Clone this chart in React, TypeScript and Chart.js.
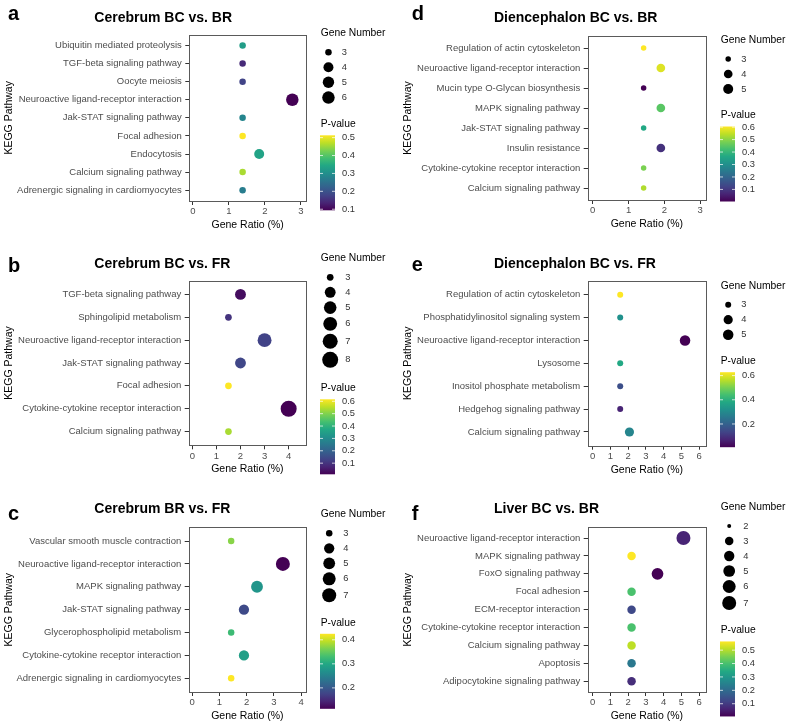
import React, { useEffect, useRef } from 'react';
import { Chart, registerables } from 'chart.js';

Chart.register(...registerables);

const FONT = '"Liberation Sans", Arial, Helvetica, sans-serif';

// ---------- Panel a : Cerebrum BC vs. BR ----------
const aPathways = [
  'Ubiquitin mediated proteolysis',
  'TGF-beta signaling pathway',
  'Oocyte meiosis',
  'Neuroactive ligand-receptor interaction',
  'Jak-STAT signaling pathway',
  'Focal adhesion',
  'Endocytosis',
  'Calcium signaling pathway',
  'Adrenergic signaling in cardiomyocytes',
];
const aRatio = [1.38, 1.38, 1.38, 2.76, 1.38, 1.38, 1.84, 1.38, 1.38];
const aGenes = [3, 3, 3, 6, 3, 3, 4, 3, 3];
const aPvalue = [0.325, 0.144, 0.178, 0.094, 0.283, 0.513, 0.337, 0.459, 0.27];
const aSizeBreaks = [3, 4, 5, 6];
const aPBreaks = [0.1, 0.2, 0.3, 0.4, 0.5];
const aXTicks = [0, 1, 2, 3];

// ---------- Panel b : Cerebrum BC vs. FR ----------
const bPathways = [
  'TGF-beta signaling pathway',
  'Sphingolipid metabolism',
  'Neuroactive ligand-receptor interaction',
  'Jak-STAT signaling pathway',
  'Focal adhesion',
  'Cytokine-cytokine receptor interaction',
  'Calcium signaling pathway',
];
const bRatio = [2.0, 1.5, 3.0, 2.0, 1.5, 4.0, 1.5];
const bGenes = [4, 3, 6, 4, 3, 8, 3];
const bPvalue = [0.03, 0.1, 0.13, 0.137, 0.616, 0.01, 0.537];
const bSizeBreaks = [3, 4, 5, 6, 7, 8];
const bPBreaks = [0.1, 0.2, 0.3, 0.4, 0.5, 0.6];
const bXTicks = [0, 1, 2, 3, 4];

// ---------- Panel c : Cerebrum BR vs. FR ----------
const cPathways = [
  'Vascular smooth muscle contraction',
  'Neuroactive ligand-receptor interaction',
  'MAPK signaling pathway',
  'Jak-STAT signaling pathway',
  'Glycerophospholipid metabolism',
  'Cytokine-cytokine receptor interaction',
  'Adrenergic signaling in cardiomyocytes',
];
const cRatio = [1.43, 3.33, 2.38, 1.9, 1.43, 1.9, 1.43];
const cGenes = [3, 7, 5, 4, 3, 4, 3];
const cPvalue = [0.369, 0.113, 0.275, 0.182, 0.325, 0.288, 0.425];
const cSizeBreaks = [3, 4, 5, 6, 7];
const cPBreaks = [0.2, 0.3, 0.4];
const cXTicks = [0, 1, 2, 3, 4];

// ---------- Panel d : Diencephalon BC vs. BR ----------
const dPathways = [
  'Regulation of actin cytoskeleton',
  'Neuroactive ligand-receptor interaction',
  'Mucin type O-Glycan biosynthesis',
  'MAPK signaling pathway',
  'Jak-STAT signaling pathway',
  'Insulin resistance',
  'Cytokine-cytokine receptor interaction',
  'Calcium signaling pathway',
];
const dRatio = [1.42, 1.9, 1.42, 1.9, 1.42, 1.9, 1.42, 1.42];
const dGenes = [3, 4, 3, 4, 3, 4, 3, 3];
const dPvalue = [0.605, 0.575, 0.003, 0.448, 0.364, 0.087, 0.485, 0.533];
const dSizeBreaks = [3, 4, 5];
const dPBreaks = [0.1, 0.2, 0.3, 0.4, 0.5, 0.6];
const dXTicks = [0, 1, 2, 3];

// ---------- Panel e : Diencephalon BC vs. FR ----------
const ePathways = [
  'Regulation of actin cytoskeleton',
  'Phosphatidylinositol signaling system',
  'Neuroactive ligand-receptor interaction',
  'Lysosome',
  'Inositol phosphate metabolism',
  'Hedgehog signaling pathway',
  'Calcium signaling pathway',
];
const eRatio = [1.55, 1.55, 5.2, 1.55, 1.55, 1.55, 2.07];
const eGenes = [3, 3, 5, 3, 3, 3, 4];
const ePvalue = [0.628, 0.318, 0.008, 0.38, 0.157, 0.07, 0.287];
const eSizeBreaks = [3, 4, 5];
const ePBreaks = [0.2, 0.4, 0.6];
const eXTicks = [0, 1, 2, 3, 4, 5, 6];

// ---------- Panel f : Liver BC vs. BR ----------
const fPathways = [
  'Neuroactive ligand-receptor interaction',
  'MAPK signaling pathway',
  'FoxO signaling pathway',
  'Focal adhesion',
  'ECM-receptor interaction',
  'Cytokine-cytokine receptor interaction',
  'Calcium signaling pathway',
  'Apoptosis',
  'Adipocytokine signaling pathway',
];
const fRatio = [5.11, 2.19, 3.65, 2.19, 2.19, 2.19, 2.19, 2.19, 2.19];
const fGenes = [7, 3, 5, 3, 3, 3, 3, 3, 3];
const fPvalue = [0.061, 0.565, 0.005, 0.403, 0.128, 0.403, 0.509, 0.229, 0.078];
const fSizeBreaks = [2, 3, 4, 5, 6, 7];
const fPBreaks = [0.1, 0.2, 0.3, 0.4, 0.5];
const fXTicks = [0, 1, 2, 3, 4, 5, 6];

// ---------- colour map (viridis) ----------
const VIRIDIS = [
  '#440154', '#482475', '#414487', '#355F8D', '#2A788E', '#21918C',
  '#22A884', '#44BF70', '#7AD151', '#BDDF26', '#FDE725',
];
function hexToRgb(h: string) {
  const n = parseInt(h.slice(1), 16);
  return [(n >> 16) & 255, (n >> 8) & 255, n & 255];
}
function viridis(t: number) {
  const c = Math.max(0, Math.min(1, t)) * (VIRIDIS.length - 1);
  const i = Math.min(VIRIDIS.length - 2, Math.floor(c));
  const f = c - i;
  const a = hexToRgb(VIRIDIS[i]);
  const b = hexToRgb(VIRIDIS[i + 1]);
  const r = a.map((v, k) => Math.round(v + (b[k] - v) * f));
  return `rgb(${r[0]},${r[1]},${r[2]})`;
}

type Col = { letterX: number; titleX: number; yTitleX: number; legendX: number };
const LEFT: Col = { letterX: 8, titleX: 94.3, yTitleX: 8.7, legendX: 320.7 };
const RIGHT: Col = { letterX: 411.7, titleX: 494, yTitleX: 408.3, legendX: 720.7 };

type Spec = {
  letter: string;
  title: string;
  pathways: string[];
  ratio: number[];
  genes: number[];
  pvalue: number[];
  sizeBreaks: number[];
  pBreaks: number[];
  xTicks: number[];
  col: Col;
  box: { x0: number; y0: number; w: number; h: number };
  plot: [number, number, number, number];
  xRange: [number, number];
  diam: [number, number];
  gnY: number;
  letterY: number;
  titleY: number;
};

const specs: Spec[] = [
  {
    letter: 'a', title: 'Cerebrum BC vs. BR',
    pathways: aPathways, ratio: aRatio, genes: aGenes, pvalue: aPvalue,
    sizeBreaks: aSizeBreaks, pBreaks: aPBreaks, xTicks: aXTicks, col: LEFT,
    box: { x0: 0, y0: 0, w: 395, h: 240 }, plot: [189.3, 34.7, 306, 201],
    xRange: [-0.1, 3.14], diam: [6.5, 12.5], gnY: 33.3, letterY: 20, titleY: 21.7,
  },
  {
    letter: 'b', title: 'Cerebrum BC vs. FR',
    pathways: bPathways, ratio: bRatio, genes: bGenes, pvalue: bPvalue,
    sizeBreaks: bSizeBreaks, pBreaks: bPBreaks, xTicks: bXTicks, col: LEFT,
    box: { x0: 0, y0: 240, w: 395, h: 240 }, plot: [188.7, 280.7, 306, 445.3],
    xRange: [-0.15, 4.72], diam: [6.7, 16], gnY: 258.3, letterY: 271.5, titleY: 268.3,
  },
  {
    letter: 'c', title: 'Cerebrum BR vs. FR',
    pathways: cPathways, ratio: cRatio, genes: cGenes, pvalue: cPvalue,
    sizeBreaks: cSizeBreaks, pBreaks: cPBreaks, xTicks: cXTicks, col: LEFT,
    box: { x0: 0, y0: 480, w: 395, h: 244 }, plot: [188.7, 527.3, 306, 692],
    xRange: [-0.13, 4.18], diam: [6.5, 14], gnY: 514.3, letterY: 520, titleY: 513.3,
  },
  {
    letter: 'd', title: 'Diencephalon BC vs. BR',
    pathways: dPathways, ratio: dRatio, genes: dGenes, pvalue: dPvalue,
    sizeBreaks: dSizeBreaks, pBreaks: dPBreaks, xTicks: dXTicks, col: RIGHT,
    box: { x0: 395, y0: 0, w: 395, h: 240 }, plot: [587.7, 36, 706, 200],
    xRange: [-0.14, 3.16], diam: [5.5, 10], gnY: 40, letterY: 20, titleY: 21.7,
  },
  {
    letter: 'e', title: 'Diencephalon BC vs. FR',
    pathways: ePathways, ratio: eRatio, genes: eGenes, pvalue: ePvalue,
    sizeBreaks: eSizeBreaks, pBreaks: ePBreaks, xTicks: eXTicks, col: RIGHT,
    box: { x0: 395, y0: 240, w: 395, h: 240 }, plot: [587.7, 281, 706, 445.7],
    xRange: [-0.28, 6.38], diam: [6, 10.5], gnY: 285.7, letterY: 271, titleY: 268.3,
  },
  {
    letter: 'f', title: 'Liver BC vs. BR',
    pathways: fPathways, ratio: fRatio, genes: fGenes, pvalue: fPvalue,
    sizeBreaks: fSizeBreaks, pBreaks: fPBreaks, xTicks: fXTicks, col: RIGHT,
    box: { x0: 395, y0: 480, w: 395, h: 244 }, plot: [587.7, 527.3, 706, 692],
    xRange: [-0.28, 6.38], diam: [4, 14], gnY: 507, letterY: 520, titleY: 513.3,
  },
];

function Panel({ s }: { s: Spec }) {
  const ref = useRef<HTMLCanvasElement | null>(null);

  useEffect(() => {
    const canvas = ref.current;
    if (!canvas) return;
    const { x0, y0, w, h } = s.box;
    const [pl, pt, pr, pb] = s.plot;
    const sMin = s.sizeBreaks[0];
    const sMax = s.sizeBreaks[s.sizeBreaks.length - 1];
    const diamOf = (v: number) =>
      s.diam[0] + (s.diam[1] - s.diam[0]) * Math.sqrt(Math.max(0, (v - sMin) / (sMax - sMin)));
    const pMin = Math.min(...s.pvalue);
    const pMax = Math.max(...s.pvalue);
    const colorOf = (p: number) => viridis((p - pMin) / (pMax - pMin));

    const points = s.ratio.map((x, i) => ({ x, y: i }));
    const radii = s.genes.map((g) => diamOf(g) / 2);
    const colors = s.pvalue.map(colorOf);

    const overlay = {
      id: 'overlay' + s.letter,
      afterDraw(chart: any) {
        const ctx = chart.ctx as CanvasRenderingContext2D;
        const { left, top, right, bottom } = chart.chartArea;
        ctx.save();
        // panel border
        ctx.strokeStyle = '#5a5a5a';
        ctx.lineWidth = 1;
        ctx.strokeRect(Math.round(left) + 0.5, Math.round(top) + 0.5,
          Math.round(right) - Math.round(left), Math.round(bottom) - Math.round(top));

        // panel letter
        ctx.fillStyle = '#000';
        ctx.textAlign = 'left';
        ctx.textBaseline = 'alphabetic';
        ctx.font = `bold 20px ${FONT}`;
        ctx.fillText(s.letter, s.col.letterX - x0, s.letterY - y0);
        // title
        ctx.font = `bold 14px ${FONT}`;
        ctx.fillText(s.title, s.col.titleX - x0, s.titleY - y0);

        // axis titles
        ctx.font = `10.5px ${FONT}`;
        ctx.textAlign = 'center';
        ctx.textBaseline = 'middle';
        ctx.fillText('Gene Ratio (%)', (left + right) / 2, bottom + 24);
        ctx.save();
        ctx.translate(s.col.yTitleX - x0, (top + bottom) / 2);
        ctx.rotate(-Math.PI / 2);
        ctx.fillText('KEGG Pathway', 0, 0);
        ctx.restore();

        // size legend
        const lx = s.col.legendX - x0;
        const dMaxLegend = diamOf(sMax);
        const kw = Math.max(15, dMaxLegend + 3);
        ctx.textAlign = 'left';
        ctx.textBaseline = 'middle';
        ctx.font = `10.3px ${FONT}`;
        ctx.fillStyle = '#000';
        ctx.fillText('Gene Number', lx, s.gnY - y0);
        let y = s.gnY - y0 + 19;
        let prevH = 0;
        s.sizeBreaks.forEach((v, i) => {
          const d = diamOf(v);
          const kh = Math.max(15, d + 3);
          if (i > 0) y += (prevH + kh) / 2;
          prevH = kh;
          ctx.fillStyle = '#000';
          ctx.beginPath();
          ctx.arc(lx + kw / 2, y, d / 2, 0, Math.PI * 2);
          ctx.fill();
          ctx.fillStyle = '#333';
          ctx.font = `9.3px ${FONT}`;
          ctx.fillText(String(v), lx + kw + 5.5, y);
        });
        const gnBottom = y + prevH / 2;

        // colour bar legend
        const pvY = gnBottom + 19;
        ctx.fillStyle = '#000';
        ctx.font = `10.3px ${FONT}`;
        ctx.fillText('P-value', lx, pvY);
        const cbX = lx - 0.7;
        const cbTop = pvY + 11;
        const cbH = 75;
        const cbW = 15;
        const grad = ctx.createLinearGradient(0, cbTop + cbH, 0, cbTop);
        VIRIDIS.forEach((c, i) => grad.addColorStop(i / (VIRIDIS.length - 1), c));
        ctx.fillStyle = grad;
        ctx.fillRect(cbX, cbTop, cbW, cbH);
        ctx.font = `9.3px ${FONT}`;
        s.pBreaks.forEach((b) => {
          const yy = cbTop + cbH - ((b - pMin) / (pMax - pMin)) * cbH;
          ctx.strokeStyle = 'rgba(255,255,255,0.9)';
          ctx.lineWidth = 0.8;
          ctx.beginPath();
          ctx.moveTo(cbX, yy);
          ctx.lineTo(cbX + 3, yy);
          ctx.moveTo(cbX + cbW - 3, yy);
          ctx.lineTo(cbX + cbW, yy);
          ctx.stroke();
          ctx.fillStyle = '#333';
          ctx.fillText(String(b), cbX + cbW + 7, yy);
        });
        ctx.restore();
      },
    };

    const tickFont = { family: FONT, size: 9.5 };
    const chart = new Chart(canvas, {
      type: 'scatter',
      data: {
        datasets: [
          {
            data: points,
            pointRadius: radii,
            pointHoverRadius: radii,
            pointBackgroundColor: colors,
            pointBorderWidth: 0,
            pointBorderColor: 'rgba(0,0,0,0)',
          } as any,
        ],
      },
      options: {
        animation: false,
        responsive: false,
        maintainAspectRatio: false,
        events: [],
        layout: { padding: { left: 0, top: pt - y0, right: x0 + w - pr, bottom: 0 } },
        plugins: { legend: { display: false }, tooltip: { enabled: false } },
        scales: {
          x: {
            type: 'linear',
            min: s.xRange[0],
            max: s.xRange[1],
            afterBuildTicks: (sc: any) => {
              sc.ticks = s.xTicks.map((v) => ({ value: v }));
            },
            afterFit: (sc: any) => {
              sc.height = y0 + h - pb;
            },
            grid: { drawOnChartArea: false, drawTicks: true, tickLength: 4, tickColor: '#333', tickWidth: 1 },
            border: { display: false },
            ticks: {
              font: tickFont, color: '#4D4D4D', padding: 1, maxRotation: 0, autoSkip: false,
              callback: (v: any) => String(v),
            },
          },
          y: {
            type: 'linear',
            reverse: true,
            min: -0.6,
            max: s.pathways.length - 0.4,
            afterBuildTicks: (sc: any) => {
              sc.ticks = s.pathways.map((_, i) => ({ value: i }));
            },
            afterFit: (sc: any) => {
              sc.width = pl - x0;
            },
            grid: { drawOnChartArea: false, drawTicks: true, tickLength: 4, tickColor: '#333', tickWidth: 1 },
            border: { display: false },
            ticks: {
              font: tickFont, color: '#4D4D4D', padding: 3.5, autoSkip: false,
              callback: (v: any) => s.pathways[v] ?? '',
            },
          },
        },
      } as any,
      plugins: [overlay],
    });
    return () => chart.destroy();
  }, [s]);

  return (
    <canvas
      ref={ref}
      width={s.box.w}
      height={s.box.h}
      style={{ position: 'absolute', left: s.box.x0, top: s.box.y0, width: s.box.w, height: s.box.h }}
    />
  );
}

export default function App() {
  return (
    <div style={{ position: 'absolute', left: 0, top: 0, width: 790, height: 724, background: '#fff' }}>
      {specs.map((s) => (
        <Panel key={s.letter} s={s} />
      ))}
    </div>
  );
}
